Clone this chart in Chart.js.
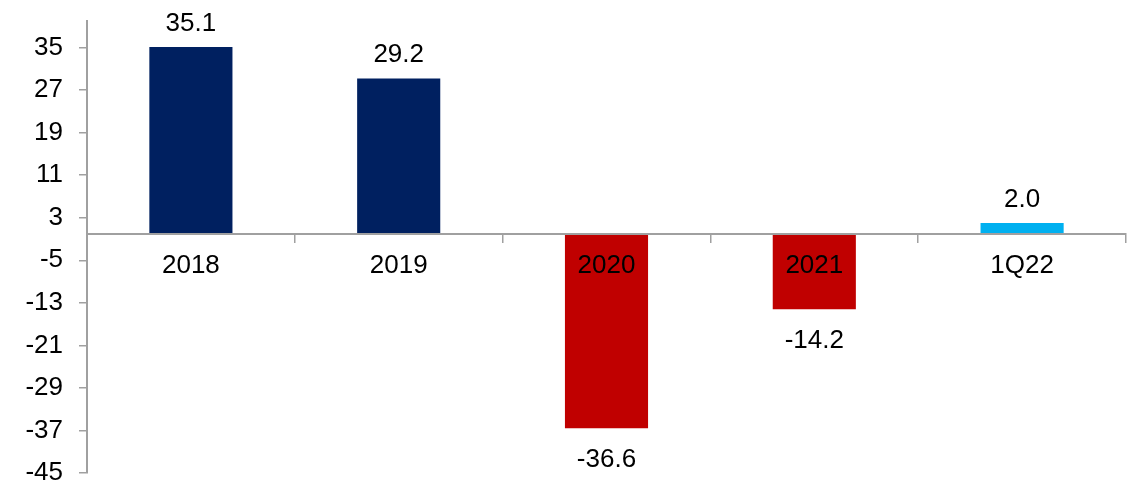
<!DOCTYPE html>
<html>
<head>
<meta charset="utf-8">
<script src="https://cdn.jsdelivr.net/npm/chart.js@4/dist/chart.umd.min.js"></script>
<style>
  html, body { margin: 0; padding: 0; background: #fff; }
  #wrap { width: 1140px; height: 483px; position: relative; }
</style>
</head>
<body>
<div id="wrap"><canvas id="myChart"></canvas></div>
<script>
// categories and values
const categories = ['2018', '2019', '2020', '2021', '1Q22'];
const values = [35.1, 29.2, -36.6, -14.2, 2.0];
const yTicks = [-45, -37, -29, -21, -13, -5, 3, 11, 19, 27, 35];

const FONT = "'Liberation Sans', Arial, sans-serif";
const AXIS_GREY = '#a0a0a0';

// value labels above positive bars, below negative ones
const valueLabels = {
  id: 'valueLabels',
  afterDatasetsDraw(chart) {
    const ctx = chart.ctx;
    const meta = chart.getDatasetMeta(0);
    ctx.save();
    ctx.font = '26px ' + FONT;
    ctx.fillStyle = '#000';
    ctx.textAlign = 'center';
    ctx.textBaseline = 'alphabetic';
    meta.data.forEach((bar, i) => {
      const v = chart.data.datasets[0].data[i];
      const txt = v.toFixed(1);
      if (v >= 0) {
        ctx.fillText(txt, bar.x, bar.y - 16.5);
      } else {
        ctx.fillText(txt, bar.x, bar.y + 38.5);
      }
    });
    ctx.restore();
  }
};

const data = {
  labels: categories,
  datasets: [{
    data: values,
    backgroundColor: ['#002060', '#002060', '#C00000', '#C00000', '#00B0F0'],
    borderWidth: 0,
    categoryPercentage: 1,
    barPercentage: 0.4
  }]
};

const config = {
  type: 'bar',
  data: data,
  options: {
    responsive: true,
    maintainAspectRatio: false,
    animation: false,
    layout: { padding: { top: 21, right: 14, bottom: 10, left: 0 } },
    plugins: {
      legend: { display: false },
      tooltip: { enabled: false }
    },
    scales: {
      // category axis sits on zero and is drawn over the bars
      x: {
        type: 'category',
        position: { y: 0 },
        offset: true,
        grid: {
          offset: true,
          drawOnChartArea: false,
          drawTicks: true,
          tickLength: 8,
          color: AXIS_GREY,
          lineWidth: 1.5,
          z: 1
        },
        border: { display: true, color: AXIS_GREY, width: 2, z: 1 },
        ticks: {
          color: '#000',
          font: { family: FONT, size: 26, lineHeight: 1 },
          padding: 11,
          maxRotation: 0,
          autoSkip: false,
          z: 1
        },
        afterFit(scale) {
          scale.paddingLeft = 0;
          scale.paddingRight = 0;
        }
      },
      y: {
        min: -45,
        max: 40,
        grid: {
          drawOnChartArea: false,
          drawTicks: true,
          tickLength: 8,
          color: AXIS_GREY,
          lineWidth: 1.5
        },
        border: { display: true, color: AXIS_GREY, width: 2 },
        ticks: {
          color: '#000',
          font: { family: FONT, size: 26, lineHeight: 1 },
          padding: 16
        },
        afterBuildTicks(scale) {
          scale.ticks = yTicks.map(v => ({ value: v }));
        },
        afterFit(scale) {
          scale.width = 87;
          scale.paddingTop = 0;
          scale.paddingBottom = 0;
        }
      }
    }
  },
  plugins: [valueLabels]
};

const myChart = new Chart(document.getElementById('myChart'), config);
</script>
</body>
</html>
